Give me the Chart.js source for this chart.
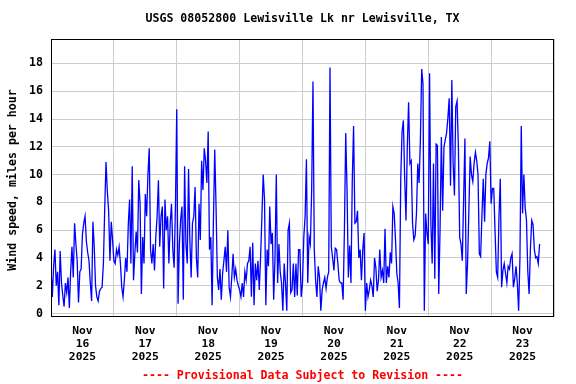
<!DOCTYPE html>
<html>
<head>
<meta charset="utf-8">
<script src="https://cdn.jsdelivr.net/npm/chart.js"></script>
<style>
  html, body { margin: 0; padding: 0; background: #ffffff; }
  #wrap { width: 576px; height: 384px; position: relative; }
</style>
</head>
<body>
<div id="wrap"><canvas id="c" width="576" height="384"></canvas></div>
<script>
// ---- Data (wind speed, mph, read at half-hour steps from the reference) ----
const titleText = 'USGS 08052800 Lewisville Lk nr Lewisville, TX';
const yTitleText = 'Wind speed, miles per hour';
const footerText = '---- Provisional Data Subject to Revision ----';

const dayLabels = [
  ['Nov', '16', '2025'], ['Nov', '17', '2025'], ['Nov', '18', '2025'], ['Nov', '19', '2025'],
  ['Nov', '20', '2025'], ['Nov', '21', '2025'], ['Nov', '22', '2025'], ['Nov', '23', '2025']
];
const yTickValues = [0, 2, 4, 6, 8, 10, 12, 14, 16, 18];

const nov16 = [3.3,1.2,3.4,4.6,2.0,3.0,0.6,4.5,2.2,1.3,0.5,2.2,1.5,2.6,0.4,3.0,4.8,2.6,6.5,5.0,3.8,0.8,3.0,3.2,
               5.7,6.5,7.0,5.2,4.4,3.8,2.2,0.9,6.6,4.8,2.0,1.2,0.9,1.6,1.8,1.9,3.6,7.5,10.9,8.8,7.4,3.8,6.6,5.3];
const nov17 = [3.8,3.6,4.6,4.2,4.8,3.6,1.9,1.2,2.4,4.0,3.0,6.4,8.2,3.6,10.6,2.4,4.3,5.9,4.4,9.6,7.9,1.4,5.5,3.6,
               8.6,7.0,10.0,11.9,4.6,3.6,5.0,3.1,5.5,7.0,9.6,4.8,7.0,7.7,1.8,8.2,6.0,7.0,3.6,6.5,7.9,4.6,3.3,7.7];
const nov18 = [14.7,0.7,5.0,6.8,7.7,1.0,10.6,5.0,3.6,10.4,5.3,2.6,6.5,7.0,9.1,4.0,2.6,7.9,5.3,11.0,8.9,11.9,11.0,9.4,
               13.1,4.6,5.5,0.6,6.7,11.8,7.7,2.6,1.7,3.2,1.0,2.9,3.8,4.8,3.0,6.0,1.9,1.2,2.6,4.3,2.6,3.2,2.4,2.0];
const nov19 = [1.7,1.2,2.2,1.2,3.0,2.4,3.6,3.8,4.8,1.2,5.1,0.6,3.6,2.4,3.8,1.7,4.0,7.0,10.0,8.2,0.6,4.6,3.4,7.7,
               5.0,5.8,1.0,4.0,10.0,2.2,5.0,3.0,2.2,0.2,3.6,2.2,0.2,6.0,6.5,1.5,1.7,3.6,1.2,3.6,1.3,4.6,4.6,1.2];
const nov20 = [2.2,5.5,7.0,11.1,2.2,5.5,5.0,8.9,16.7,4.6,2.4,1.2,3.4,2.6,0.2,1.7,2.2,2.6,1.8,2.6,3.0,17.7,4.8,4.0,
               3.1,4.7,4.6,3.6,2.4,2.2,2.2,1.0,6.0,13.0,8.9,2.6,4.9,2.2,9.6,13.5,6.5,6.6,7.4,4.0,4.6,2.4,4.6,5.8];
const nov21 = [0.2,2.2,1.2,1.7,2.4,2.0,1.2,4.0,3.3,1.6,2.4,4.6,2.6,3.1,2.2,6.1,2.2,3.4,2.6,4.4,3.6,7.7,7.2,5.3,
               2.9,2.2,0.4,9.7,13.1,13.9,9.8,6.7,12.0,15.2,10.8,11.0,6.5,5.3,5.6,7.2,10.8,9.4,12.5,17.6,16.5,0.2,7.2,5.8];
const nov22 = [5.0,17.3,6.5,3.6,10.8,2.5,12.2,12.1,1.4,6.0,12.7,7.4,12.0,12.5,13.0,14.1,15.5,9.2,16.8,10.8,8.5,14.9,15.3,12.0,
               5.5,5.0,3.8,8.2,12.6,1.4,3.6,7.4,11.3,10.0,9.5,10.8,11.6,11.0,10.0,4.3,4.1,7.1,9.7,6.6,10.0,10.8,11.2,12.4];
const nov23 = [7.9,9.0,9.0,5.9,3.0,2.6,7.0,9.7,1.9,3.1,3.6,2.9,2.2,3.4,3.2,4.0,4.3,1.9,2.5,3.4,2.2,0.2,4.0,13.5,
               7.2,10.0,7.6,6.7,3.0,1.4,4.7,6.7,6.4,4.6,4.0,4.1,3.6,5.0];

const days = [nov16, nov17, nov18, nov19, nov20, nov21, nov22, nov23];
const stepHours = 0.5;

// Build points: x = hours since Nov 16 00:00
const points = [];
days.forEach((vals, d) => {
  vals.forEach((v, i) => points.push({ x: d * 24 + i * stepHours, y: v }));
});

const FONT = '"DejaVu Sans Mono", "Liberation Mono", monospace';

const decorPlugin = {
  id: 'decor',
  afterDraw(chart) {
    const { ctx, chartArea: a } = chart;
    ctx.save();
    // plot frame
    ctx.strokeStyle = '#000000';
    ctx.lineWidth = 1;
    ctx.strokeRect(a.left + 0.5, a.top + 0.5, a.right - a.left - 1, a.bottom - a.top - 1);
    // title
    ctx.fillStyle = '#000000';
    ctx.font = 'bold 11.6px ' + FONT;
    ctx.textAlign = 'center';
    ctx.textBaseline = 'middle';
    ctx.fillText(titleText, (a.left + a.right) / 2, 19);
    // y title
    ctx.save();
    ctx.translate(13, (a.top + a.bottom) / 2 + 2);
    ctx.rotate(-Math.PI / 2);
    ctx.fillText(yTitleText, 0, 0);
    ctx.restore();
    // footer
    ctx.fillStyle = '#ff0000';
    ctx.fillText(footerText, (a.left + a.right) / 2, 376);
    ctx.restore();
  }
};

new Chart(document.getElementById('c'), {
  type: 'line',
  data: {
    datasets: [{
      data: points,
      borderColor: '#0000ff',
      borderWidth: 1.3,
      pointRadius: 0,
      tension: 0,
      fill: false
    }]
  },
  options: {
    responsive: false,
    animation: false,
    devicePixelRatio: 1,
    layout: { padding: { top: 39, right: 22, bottom: 0, left: 0 } },
    plugins: { legend: { display: false }, tooltip: { enabled: false }, title: { display: false } },
    scales: {
      x: {
        type: 'linear',
        min: 0,
        max: days.length * 24,
        afterFit(s) { s.height = 67; },
        afterBuildTicks(s) {
          const t = [];
          for (let h = 0; h <= days.length * 24; h += 12) t.push({ value: h });
          s.ticks = t;
        },
        border: { display: false },
        grid: {
          drawTicks: false,
          color: (c) => (c.tick && c.tick.value % 24 === 0) ? '#cccccc' : 'rgba(0,0,0,0)',
          lineWidth: 1
        },
        ticks: {
          autoSkip: false,
          maxRotation: 0,
          padding: 7,
          color: '#000000',
          font: { family: FONT, size: 11.3, weight: 'bold', lineHeight: 1.17 },
          callback: (v) => (v % 24 === 12) ? dayLabels[Math.floor(v / 24)] : ''
        }
      },
      y: {
        min: -0.25,
        max: 19.76,
        afterFit(s) { s.width = 51; },
        afterBuildTicks(s) { s.ticks = yTickValues.map(v => ({ value: v })); },
        border: { display: false },
        grid: { drawTicks: false, color: '#cccccc', lineWidth: 1 },
        ticks: {
          padding: 8,
          color: '#000000',
          font: { family: FONT, size: 11.6, weight: 'bold' },
          callback: (v) => String(v)
        }
      }
    }
  },
  plugins: [decorPlugin]
});
</script>
</body>
</html>
